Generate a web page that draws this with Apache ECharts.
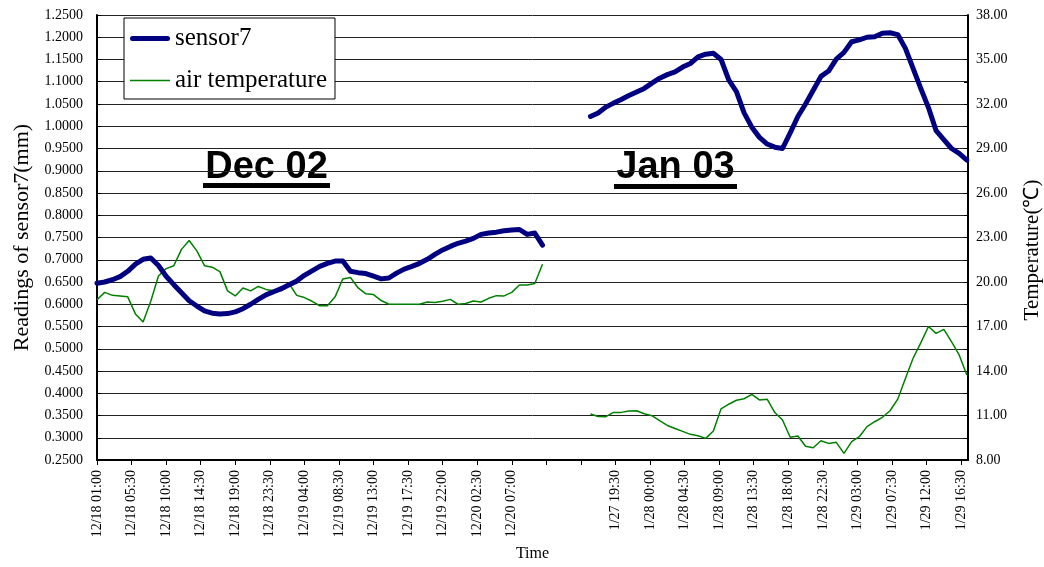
<!DOCTYPE html>
<html>
<head>
<meta charset="utf-8">
<script src="https://cdn.jsdelivr.net/npm/echarts@6.0.0/dist/echarts.min.js"></script>
<style>
html,body{margin:0;padding:0;background:#fff;}
#chart{width:1044px;height:567px;}
</style>
</head>
<body>
<div id="chart"></div>
<script>
// ---- data (hourly readings) ----
var decStartHour = 0;      // 12/18 01:00
var janStartHour = 64.25;  // 1/27 16:15 (on the same continuous axis)

var decSensor = [0.647,0.650,0.655,0.662,0.674,0.690,0.701,0.704,0.687,0.663,
  0.644,0.626,0.608,0.596,0.585,0.580,0.578,0.579,0.583,0.590,
  0.600,0.611,0.621,0.628,0.635,0.644,0.652,0.665,0.675,0.685,
  0.692,0.697,0.697,0.674,0.671,0.669,0.663,0.657,0.659,0.670,
  0.679,0.685,0.692,0.701,0.712,0.722,0.730,0.737,0.742,0.748,
  0.757,0.760,0.762,0.765,0.767,0.768,0.757,0.760,0.733];

var decTemp = [18.8,19.3,19.1,19.05,19.0,17.85,17.3,18.7,20.4,20.9,
  21.1,22.2,22.8,22.1,21.1,21.0,20.7,19.4,19.06,19.6,
  19.4,19.7,19.5,19.41,19.41,19.9,19.1,18.95,18.7,18.4,
  18.4,19.0,20.2,20.3,19.6,19.2,19.15,18.75,18.5,18.5,
  18.5,18.5,18.5,18.65,18.62,18.7,18.83,18.5,18.55,18.72,
  18.65,18.9,19.08,19.06,19.3,19.8,19.8,19.9,21.2];

var janSensor = [1.022,1.030,1.043,1.052,1.060,1.069,1.077,1.085,1.097,1.108,
  1.116,1.122,1.133,1.141,1.156,1.162,1.164,1.150,1.104,1.078,
  1.030,0.998,0.975,0.960,0.953,0.950,0.985,1.022,1.050,1.081,
  1.112,1.124,1.151,1.166,1.190,1.194,1.200,1.201,1.209,1.210,
  1.206,1.175,1.130,1.085,1.042,0.990,0.970,0.950,0.939,0.924];

var janTemp = [11.10,10.93,10.92,11.21,11.21,11.30,11.32,11.12,10.99,10.65,
  10.33,10.12,9.93,9.73,9.63,9.46,9.95,11.45,11.76,12.03,
  12.13,12.43,12.05,12.10,11.2,10.7,9.53,9.62,8.93,8.83,
  9.30,9.12,9.19,8.45,9.24,9.57,10.25,10.58,10.88,11.32,
  12.1,13.5,14.86,15.9,17.0,16.54,16.81,15.98,15.08,13.73];

var xTickLabels = ['12/18 01:00','12/18 05:30','12/18 10:00','12/18 14:30','12/18 19:00',
  '12/18 23:30','12/19 04:00','12/19 08:30','12/19 13:00','12/19 17:30','12/19 22:00',
  '12/20 02:30','12/20 07:00','','','1/27 19:30','1/28 00:00','1/28 04:30','1/28 09:00',
  '1/28 13:30','1/28 18:00','1/28 22:30','1/29 03:00','1/29 07:30','1/29 12:00','1/29 16:30'];
var xTickStep = 4.5;   // hours between labelled ticks
var xMax = 113.4;

var tempLabelValues = [8,11,14,17,20,23,26,29,32,35,38];
var tempTickValues = [8,9.5,11,12.5,14,15.5,17,18.5,20,21.5,23,24.5,26,27.5,29,30.5,32,33.5,35,36.5,38];

// ---- build series data ----
function build(start, vals) {
  return vals.map(function (v, i) { return [start + i, v]; });
}
var sensorData = build(decStartHour, decSensor).concat([[62, null]]).concat(build(janStartHour, janSensor));
var tempData = build(decStartHour, decTemp).concat([[62, null]]).concat(build(janStartHour, janTemp));

var serif = 'Liberation Serif';
var chart = echarts.init(document.getElementById('chart'), null, {renderer: 'canvas'});
chart.setOption({
  animation: false,
  backgroundColor: '#fff',
  grid: {left: 97, right: 76, top: 15, bottom: 107, containLabel: false},
  legend: {
    orient: 'vertical',
    left: 124, top: 18,
    padding: [8, 8, 6, 6],
    itemGap: 17,
    itemWidth: 40, itemHeight: 14,
    symbolKeepAspect: true,
    borderColor: '#000', borderWidth: 1,
    backgroundColor: '#fff',
    textStyle: {fontFamily: serif, fontSize: 25, color: '#000'},
    data: [
      {name: 'sensor7', icon: 'path://M2.5,0H37.5A2.5,2.5,0,0,1,37.5,5H2.5A2.5,2.5,0,0,1,2.5,0Z', itemStyle: {color: '#000080'}},
      {name: 'air temperature', icon: 'path://M0,0H40V1.5H0Z', itemStyle: {color: '#008000'}}
    ]
  },
  xAxis: {
    type: 'value',
    min: 0, max: xMax, interval: xTickStep,
    name: 'Time', nameLocation: 'middle', nameGap: 86,
    nameTextStyle: {fontFamily: serif, fontSize: 16, color: '#000'},
    axisLine: {show: true, lineStyle: {color: '#000', width: 2}},
    axisTick: {show: true, inside: false, length: 5, lineStyle: {color: '#000', width: 1}},
    splitLine: {show: false},
    axisLabel: {
      rotate: 90, margin: 10, showMaxLabel: false,
      fontFamily: serif, fontSize: 14, color: '#000',
      formatter: function (v) {
        var k = Math.round(v / xTickStep);
        if (Math.abs(v - k * xTickStep) > 0.01) return '';
        return xTickLabels[k] || '';
      }
    }
  },
  yAxis: [{
    type: 'value',
    min: 0.25, max: 1.25, interval: 0.05,
    name: 'Readings of sensor7(mm)', nameLocation: 'middle', nameGap: 64,
    nameTextStyle: {fontFamily: serif, fontSize: 22, color: '#000'},
    axisLine: {show: true, lineStyle: {color: '#000', width: 2}},
    axisTick: {show: true, inside: true, length: 4, lineStyle: {color: '#000'}},
    splitLine: {show: true, lineStyle: {color: '#222', width: 1}},
    axisLabel: {
      margin: 14, fontFamily: serif, fontSize: 14, color: '#000',
      formatter: function (v) { return v.toFixed(4); }
    }
  }, {
    type: 'value',
    position: 'right',
    min: 8, max: 38,
    axisLine: {show: true, onZero: false, lineStyle: {color: '#000', width: 2}},
    axisTick: {show: true, inside: true, length: 4, customValues: tempTickValues, lineStyle: {color: '#000'}},
    splitLine: {show: false},
    axisLabel: {
      margin: 8, fontFamily: serif, fontSize: 14, color: '#000',
      customValues: tempLabelValues,
      formatter: function (v) { return Number(v).toFixed(2); }
    }
  }],
  graphic: [
    {type: 'text', x: 1032, y: 250, rotation: Math.PI / 2,
      style: {text: 'Temperature(℃)', fontFamily: serif, fontSize: 21, fill: '#000', align: 'center', verticalAlign: 'middle'}},
    {type: 'text', x: 266.5, y: 168,
      style: {text: 'Dec 02', font: 'bold 38px "Liberation Sans", Arial', fill: '#000', align: 'center', verticalAlign: 'middle'}},
    {type: 'rect', shape: {x: 203, y: 183, width: 127, height: 5}, style: {fill: '#000'}},
    {type: 'text', x: 675.5, y: 168,
      style: {text: 'Jan 03', font: 'bold 38px "Liberation Sans", Arial', fill: '#000', align: 'center', verticalAlign: 'middle'}},
    {type: 'rect', shape: {x: 614, y: 184, width: 123, height: 5}, style: {fill: '#000'}}
  ],
  series: [{
    name: 'sensor7', type: 'line', yAxisIndex: 0,
    data: sensorData, symbol: 'none', showSymbol: false, connectNulls: false,
    lineStyle: {color: '#000080', width: 5, cap: 'round', join: 'round'},
    itemStyle: {color: '#000080'},
    z: 3
  }, {
    name: 'air temperature', type: 'line', yAxisIndex: 1,
    data: tempData, symbol: 'none', showSymbol: false, connectNulls: false,
    lineStyle: {color: '#008000', width: 1.5},
    itemStyle: {color: '#008000'},
    z: 2
  }]
});
</script>
</body>
</html>
